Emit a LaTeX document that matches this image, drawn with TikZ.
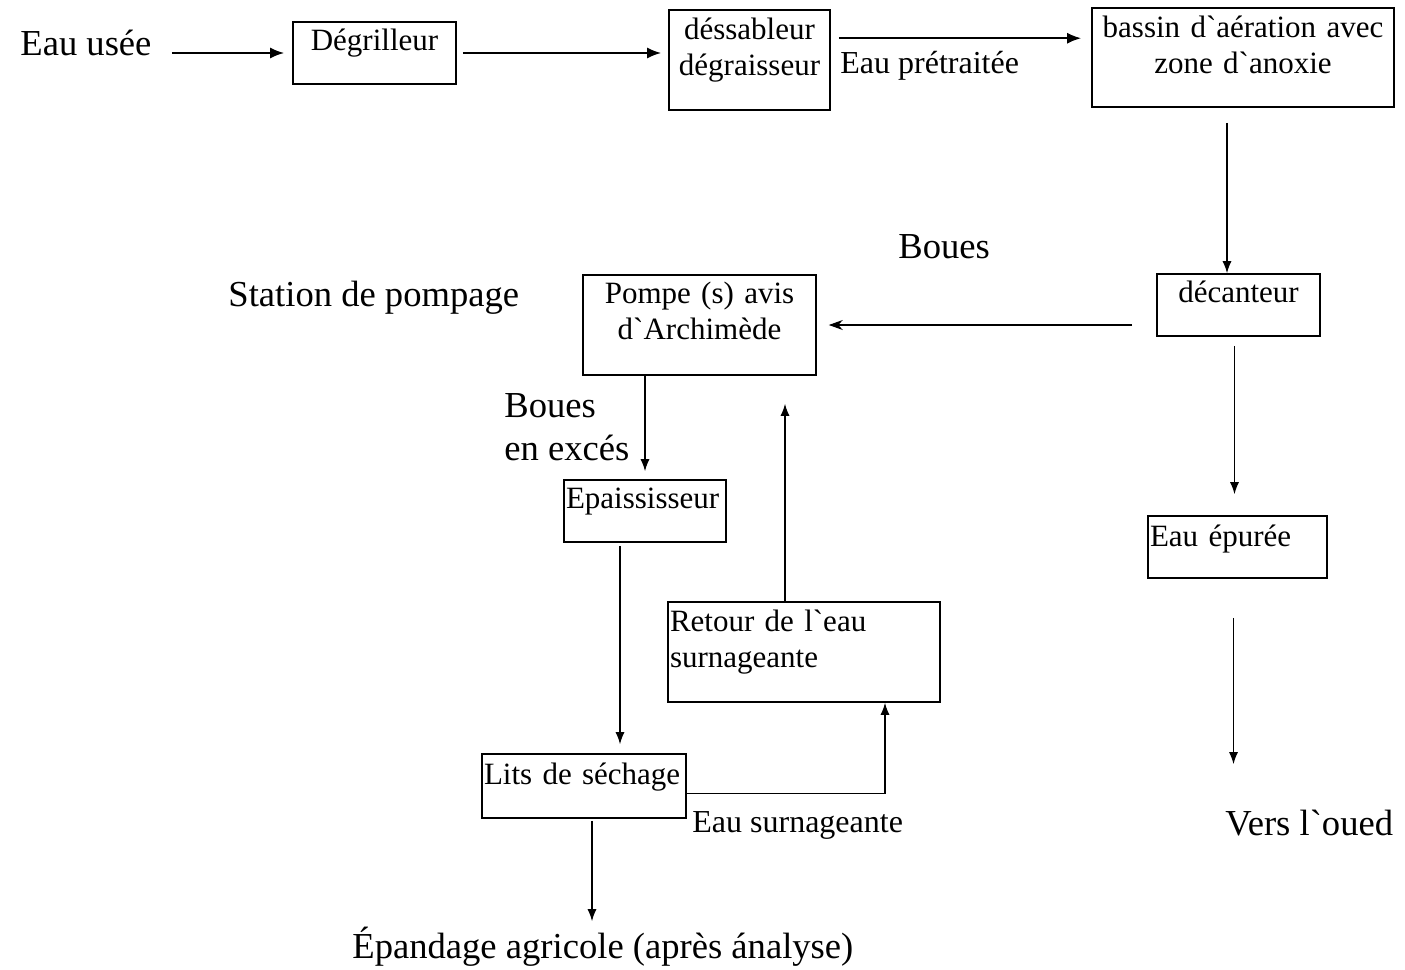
\documentclass[tikz,border=0pt]{standalone}
\usepackage{fontspec}
\setmainfont{Liberation Serif}
\usetikzlibrary{arrows.meta,positioning}
\newcommand{\boxfont}{\fontsize{15.5}{18}\selectfont}
\newcommand{\labfont}{\fontsize{18.3}{21.5}\selectfont}
\newcommand{\midfont}{\fontsize{16}{19}\selectfont}
\newcommand{\gr}{\textasciigrave}

\begin{document}
\begin{tikzpicture}[x=0.5pt,y=-0.5pt,
	box/.style={draw, line width=0.8pt, inner xsep=1pt, inner ysep=0pt, font=\boxfont},
	lab/.style={inner sep=0pt, font=\labfont},
	arr/.style={-{Latex[length=6pt,width=4.5pt]}, line width=0.6pt},
	bigarr/.style={-{Latex[length=7pt,width=5.5pt]}, line width=1pt}]
\useasboundingbox (0,0) rectangle (1405,970);

% first row
\node[lab, anchor=base west] (eau) at (20,55) {Eau usée};
\node[box, text width=79.5pt, align=center, text height=14pt, text depth=17pt] (degr) at (374.5,53) {Dégrilleur};
\node[box, text width=78.5pt, align=center, text height=14.5pt, text depth=35.5pt] (dess) at (749.5,60) {déssableur\\dégraisseur};
\node[box, text width=149pt, align=center, text height=14.5pt, text depth=35pt] (bassin) at (1243,57.5) {bassin d\gr aération avec\\zone d\gr anoxie};
\node[lab, font=\midfont, anchor=base west] (pretr) at (840,73) {Eau prétraitée};

\draw[bigarr, shorten <=10pt, shorten >=4pt] (eau.east |- degr.west) -- (degr.west);
\draw[bigarr, shorten <=3pt, shorten >=3.5pt] (degr.east) -- (degr.east -| dess.west);
\draw[bigarr, shorten <=4pt, shorten >=5pt] (dess.15) -- (dess.15 -| bassin.west);

% clarification
\node[box, text width=79.5pt, align=center, text height=14pt, text depth=17pt] (decant) at (1238.5,305) {décanteur};
\node[box, text width=114.5pt, align=center, text height=14pt, text depth=36pt] (pompe) at (699.5,325) {Pompe (s) avis\\d\gr Archimède};
\node[lab, anchor=base west] (boues) at (898,258) {Boues};
\node[lab, anchor=base west] (station) at (228,306) {Station de pompage};

\draw[arr, shorten <=7.5pt] ([xshift=-8pt]bassin.south) -- ([xshift=-8pt]bassin.south |- decant.north);
\draw[-{Stealth[length=7pt,width=5pt]}, line width=0.6pt, shorten <=12pt, shorten >=6pt] (decant.west |- pompe.east) -- (pompe.east);

% sludge line
\node[box, text width=79pt, align=left, text height=14pt, text depth=17pt] (epais) at (645,511) {Epaississeur};
\node[lab, align=left, anchor=base west] (exces) at (504,460) {Boues\\en excés};
\node[box, text width=100pt, align=left, text height=15pt, text depth=17pt] (lits) at (584,786) {Lits de séchage};
\node[box, text width=134pt, align=left, text height=14.5pt, text depth=35.5pt] (retour) at (804,652) {Retour de l\gr eau\\surnageante};
\node[lab, font=\midfont, anchor=base west] (surn) at (692,832) {Eau surnageante};
\node[lab, anchor=base west] (epand) at (352,958) {Épandage agricole (après ánalyse)};

\draw[arr, shorten >=4pt] (pompe.south -| epais.north) -- (epais.north);
\draw[arr, shorten <=1.5pt, shorten >=4.5pt] ([xshift=-12.5pt]epais.south) -- ([xshift=-12.5pt]epais.south |- lits.north);
\draw[arr] (lits.-4) -| ([xshift=40.5pt]retour.south);
\draw[arr, shorten >=14pt] ([xshift=-9.5pt]retour.north) -- ([xshift=-9.5pt]retour.north |- pompe.south);
\draw[arr, shorten <=1pt, shorten >=2.5pt] ([xshift=4pt]lits.south) -- ([xshift=4pt]lits.south |- epand.north);

% treated water
\node[box, text width=87.5pt, align=left, text height=15pt, text depth=16pt] (epure) at (1237.5,547) {Eau épurée};
\node[lab, anchor=base west] (vers) at (1225,835) {Vers l\gr oued};

\draw[arr, shorten <=4.5pt, shorten >=10.5pt] ([xshift=-2pt]decant.south) -- ([xshift=-2pt]decant.south |- epure.north);
\draw[arr, shorten <=19.5pt, shorten >=22.5pt] ([xshift=-2pt]epure.south) -- ([xshift=-2pt]epure.south |- vers.north);
\end{tikzpicture}
\end{document}
